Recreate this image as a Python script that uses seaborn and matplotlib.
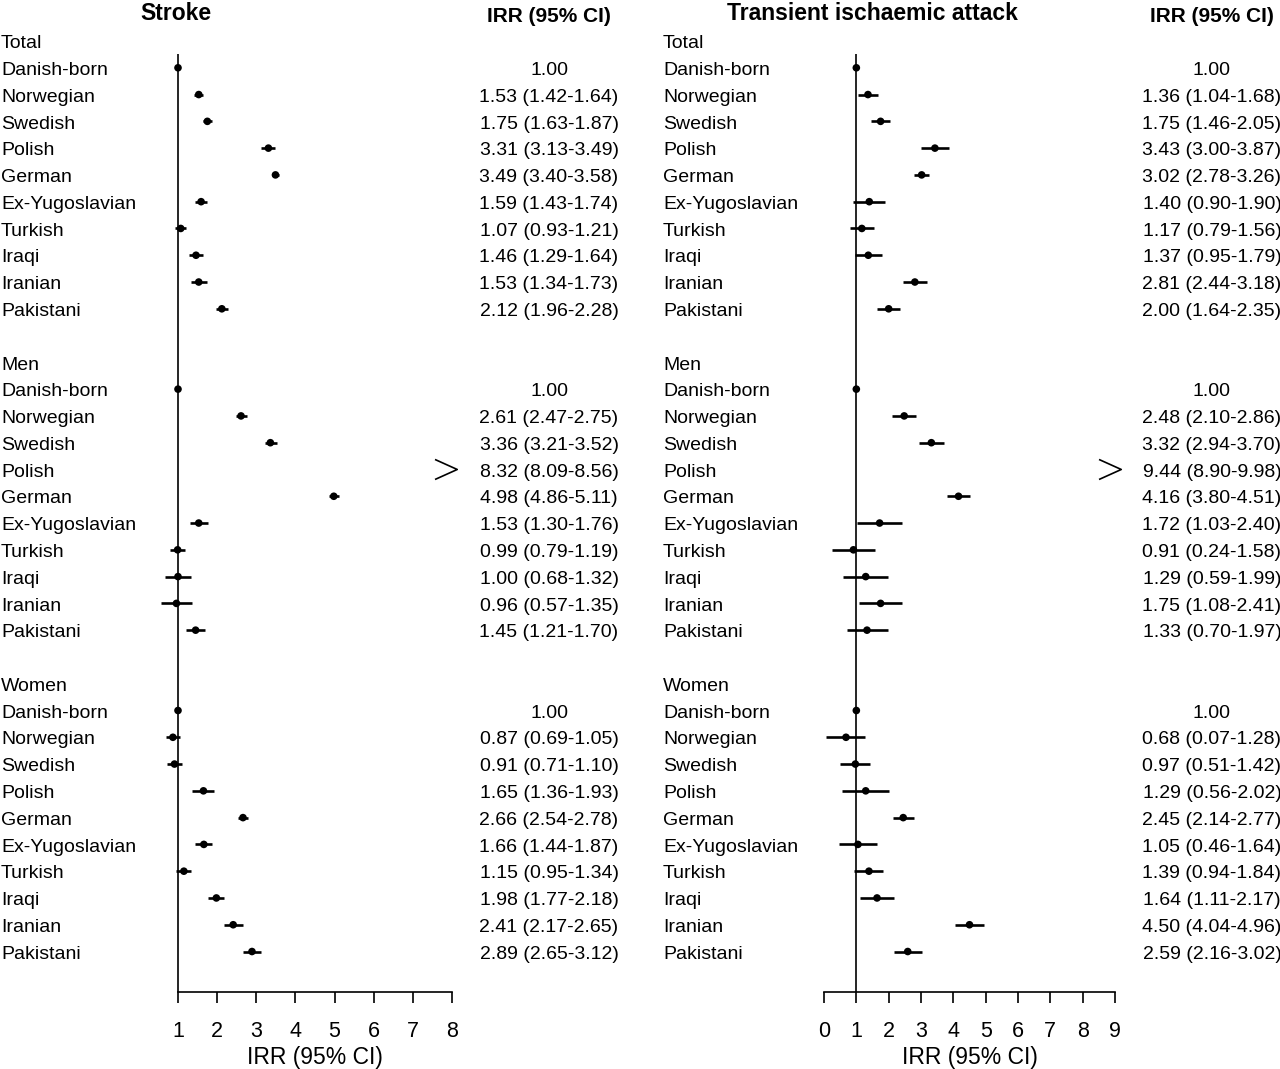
"""
forest plot: stroke and TIA incidence rate ratios by country of birth
"""
import matplotlib
matplotlib.use("Agg")
import numpy as np
import pandas as pd
import matplotlib.pyplot as plt
import matplotlib.transforms as mtransforms
from matplotlib.path import Path
import seaborn as sns


GROUPS = ["Total", "Men", "Women"]
COUNTRIES = ["Danish-born", "Norwegian", "Swedish", "Polish", "German",
             "Ex-Yugoslavian", "Turkish", "Iraqi", "Iranian", "Pakistani"]

# stroke, Total / Men / Women (10 rows each)
stroke_irr = [1.00, 1.53, 1.75, 3.31, 3.49, 1.59, 1.07, 1.46, 1.53, 2.12,
              1.00, 2.61, 3.36, 8.32, 4.98, 1.53, 0.99, 1.00, 0.96, 1.45,
              1.00, 0.87, 0.91, 1.65, 2.66, 1.66, 1.15, 1.98, 2.41, 2.89]
stroke_lo = [np.nan, 1.42, 1.63, 3.13, 3.40, 1.43, 0.93, 1.29, 1.34, 1.96,
             np.nan, 2.47, 3.21, 8.09, 4.86, 1.30, 0.79, 0.68, 0.57, 1.21,
             np.nan, 0.69, 0.71, 1.36, 2.54, 1.44, 0.95, 1.77, 2.17, 2.65]
stroke_hi = [np.nan, 1.64, 1.87, 3.49, 3.58, 1.74, 1.21, 1.64, 1.73, 2.28,
             np.nan, 2.75, 3.52, 8.56, 5.11, 1.76, 1.19, 1.32, 1.35, 1.70,
             np.nan, 1.05, 1.10, 1.93, 2.78, 1.87, 1.34, 2.18, 2.65, 3.12]

# transient ischaemic attack
tia_irr = [1.00, 1.36, 1.75, 3.43, 3.02, 1.40, 1.17, 1.37, 2.81, 2.00,
           1.00, 2.48, 3.32, 9.44, 4.16, 1.72, 0.91, 1.29, 1.75, 1.33,
           1.00, 0.68, 0.97, 1.29, 2.45, 1.05, 1.39, 1.64, 4.50, 2.59]
tia_lo = [np.nan, 1.04, 1.46, 3.00, 2.78, 0.90, 0.79, 0.95, 2.44, 1.64,
          np.nan, 2.10, 2.94, 8.90, 3.80, 1.03, 0.24, 0.59, 1.08, 0.70,
          np.nan, 0.07, 0.51, 0.56, 2.14, 0.46, 0.94, 1.11, 4.04, 2.16]
tia_hi = [np.nan, 1.68, 2.05, 3.87, 3.26, 1.90, 1.56, 1.79, 3.18, 2.35,
          np.nan, 2.86, 3.70, 9.98, 4.51, 2.40, 1.58, 1.99, 2.41, 1.97,
          np.nan, 1.28, 1.42, 2.02, 2.77, 1.64, 1.84, 2.17, 4.96, 3.02]

W, H = 1280, 1069
ROW0, ROWSTEP = 41, 26.78          # pixel y of first row and row spacing
AX_TOP, AX_BOTTOM = 20, 992
TEXT_SHIFT = 0.1                   # nudge labels down onto the dot rows


def build_frame(irr, lo, hi):
    rows = []
    for g, group in enumerate(GROUPS):
        for c, country in enumerate(COUNTRIES):
            k = g * len(COUNTRIES) + c
            rows.append({"group": group, "country": country,
                         "row": g * 12 + 1 + c,
                         "irr": irr[k], "lo": lo[k], "hi": hi[k]})
    return pd.DataFrame(rows)


def label_text(r):
    if np.isnan(r.lo):
        return f"{r.irr:.2f}"
    return f"{r.irr:.2f} ({r.lo:.2f}-{r.hi:.2f})"


def draw_panel(fig, ax, df, xmin, xmax, ticks, title, title_x, label_x, est_x):
    ytop = (AX_TOP - ROW0) / ROWSTEP
    ybot = (AX_BOTTOM - ROW0) / ROWSTEP
    ax.set_xlim(xmin, xmax)
    ax.set_ylim(ybot, ytop)

    inside = df[df.irr <= xmax]
    beyond = df[df.irr > xmax]
    ci = inside.dropna(subset=["lo"])

    ax.vlines(1, 0.5, ybot, color="black", lw=1.2, zorder=1, clip_on=False)
    ax.hlines(ci.row, ci.lo, ci.hi, color="black", lw=1.9, zorder=2,
              clip_on=False)
    sns.scatterplot(data=inside, x="irr", y="row", ax=ax, color="black",
                    s=30, edgecolor="none", zorder=3, clip_on=False,
                    legend=False)
    # off-scale estimate shown as a ">" at the end of the axis
    chevron = Path([(-1.0, 0.9), (1.0, 0.0), (-1.0, -0.9)],
                   [Path.MOVETO, Path.LINETO, Path.LINETO])
    ax.scatter(np.full(len(beyond), xmax - 0.15), beyond.row, marker=chevron,
               s=256, facecolors="none", edgecolors="black", linewidths=1.2,
               clip_on=False, zorder=3)

    for s in ["left", "right", "top"]:
        ax.spines[s].set_visible(False)
    ax.spines["bottom"].set_color("black")
    ax.spines["bottom"].set_linewidth(1.2)
    ax.set_yticks([])
    ax.set_xticks(ticks)
    ax.tick_params(axis="x", bottom=True, direction="out", length=8,
                   width=1.2, labelsize=15.5, pad=13, color="black")
    ax.set_xlabel("IRR (95% CI)", fontsize=16.5, labelpad=3)
    ax.set_ylabel("")

    trans = mtransforms.blended_transform_factory(fig.transFigure, ax.transData)
    for g, group in enumerate(GROUPS):
        ax.text(label_x / W, g * 12 + TEXT_SHIFT, group, transform=trans,
                fontsize=14, ha="left", va="center")
    for r in df.itertuples():
        ax.text(label_x / W, r.row + TEXT_SHIFT, r.country, transform=trans,
                fontsize=14, ha="left", va="center")
        ax.text(est_x / W, r.row + TEXT_SHIFT, label_text(r), transform=trans,
                fontsize=14, ha="center", va="center")

    fig.text(title_x / W, 1 - 13 / H, title, fontsize=16.5,
             fontweight="bold", ha="center", va="center")
    fig.text(est_x / W, 1 - 17 / H, "IRR (95% CI)", fontsize=15,
             fontweight="bold", ha="center", va="center")


def main():
    sns.set_theme(style="white")
    plt.rcParams["font.family"] = ["Liberation Sans", "DejaVu Sans"]
    plt.rcParams["text.color"] = "black"
    plt.rcParams["xtick.color"] = "black"
    plt.rcParams["axes.labelcolor"] = "black"

    fig = plt.figure(figsize=(W / 100, H / 100), dpi=100)
    bottom = 1 - AX_BOTTOM / H
    height = (AX_BOTTOM - AX_TOP) / H
    ax1 = fig.add_axes([178 / W, bottom, 274 / W, height])
    ax2 = fig.add_axes([824 / W, bottom, 291 / W, height])

    stroke = build_frame(stroke_irr, stroke_lo, stroke_hi)
    tia = build_frame(tia_irr, tia_lo, tia_hi)

    draw_panel(fig, ax1, stroke, 1, 8, range(1, 9), "Stroke", 176, 1, 549)
    draw_panel(fig, ax2, tia, 0, 9, range(0, 10),
               "Transient ischaemic attack", 872, 663, 1212)

    fig.savefig("out.png", dpi=100, facecolor="white")


if __name__ == "__main__":
    main()
